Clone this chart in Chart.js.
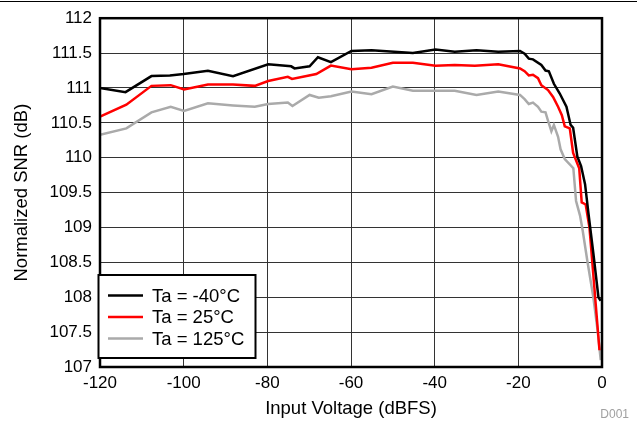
<!DOCTYPE html>
<html>
<head>
<meta charset="utf-8">
<script src="https://cdn.jsdelivr.net/npm/chart.js@4/dist/chart.umd.min.js"></script>
<style>
  html, body { margin: 0; padding: 0; background: #fff; }
  #wrap { position: relative; width: 637px; height: 426px; }
</style>
</head>
<body>
<div id="wrap"><canvas id="c" width="637" height="426"></canvas></div>
<script>
// ---- data ----
const seriesLabels = ['Ta = -40\u00B0C', 'Ta = 25\u00B0C', 'Ta = 125\u00B0C'];

const xM40 = [-120, -113.9, -107.7, -103.3, -100, -94.2, -88.2, -79.8, -74.3, -73.5,
  -69.9, -67.9, -64.8, -59.9, -55.1, -45.2, -39.8, -35.2, -30, -24.8,
  -19.6, -18.5, -17.5, -16.5, -14.5, -13.5, -12.7, -11.5, -10.1, -8.5,
  -7.5, -6.9, -5.9, -5.0, -4.05, -3.25, -2.05, -0.85, -0.3];
const yM40 = [111.0, 110.94, 111.17, 111.18, 111.2, 111.245, 111.17, 111.34, 111.31, 111.28,
  111.31, 111.44, 111.37, 111.53, 111.54, 111.50, 111.55, 111.52, 111.54, 111.52,
  111.53, 111.49, 111.42, 111.41, 111.33, 111.25, 111.24, 111.06, 110.92, 110.73,
  110.47, 110.43, 110.02, 109.88, 109.62, 109.21, 108.62, 108.0, 107.95];

const x25 = [-120, -113.7, -107.7, -103.1, -99.9, -94.2, -88.2, -83, -79.8, -75.1,
  -74.1, -68.3, -64.8, -59.9, -55.1, -50, -45.2, -39.8, -35.2, -30.4,
  -24.8, -19.6, -18.5, -17.5, -16.5, -15.3, -14.5, -12.9, -11.7, -10.5,
  -9.6, -8.9, -7.7, -6.9, -5.45, -4.85, -3.9, -3.0, -0.6];
const y25 = [110.59, 110.76, 111.03, 111.04, 110.98, 111.05, 111.05, 111.03, 111.10, 111.16,
  111.13, 111.2, 111.32, 111.27, 111.29, 111.36, 111.36, 111.32, 111.33, 111.32,
  111.34, 111.28, 111.24, 111.18, 111.19, 111.14, 111.04, 110.97, 110.87, 110.73,
  110.61, 110.45, 110.42, 110.07, 109.85, 109.36, 109.33, 109.0, 107.24];

const x125 = [-120, -113.7, -107.7, -103.1, -99.9, -94.2, -88.2, -83, -79.8, -75.1,
  -74, -69.9, -67.7, -64.8, -59.9, -55.1, -50, -45.2, -39.8, -35.2,
  -30, -24.8, -19.6, -18.5, -17.5, -16.5, -15.3, -14.5, -13.5, -12.9,
  -12.1, -11.5, -10.5, -9.9, -8.9, -6.85, -6.2, -5.25, -4.6, -3.5,
  -2.07, -1.0, -0.3];
const y125 = [110.33, 110.42, 110.65, 110.73, 110.67, 110.78, 110.75, 110.73, 110.77, 110.79,
  110.74, 110.90, 110.86, 110.88, 110.95, 110.91, 111.02, 110.96, 110.96, 110.96,
  110.90, 110.95, 110.90, 110.84, 110.77, 110.79, 110.73, 110.66, 110.65, 110.53,
  110.38, 110.47, 110.30, 110.12, 109.98, 109.85, 109.38, 109.17, 108.95, 108.52,
  108.0, 107.5, 107.1];

const xTicks = [-120, -100, -80, -60, -40, -20, 0];
const yTicks = [107, 107.5, 108, 108.5, 109, 109.5, 110, 110.5, 111, 111.5, 112];

const xTitle = 'Input Voltage (dBFS)';
const yTitle = 'Normalized SNR (dB)';
const noteText = 'D001';

// ---- build ----
const FONT = "'Liberation Sans', Arial, sans-serif";
const colors = ['#000000', '#ff0000', '#aaaaaa'];
const zip = (xs, ys) => xs.map((x, i) => ({ x: x, y: ys[i] }));
const allData = [zip(xM40, yM40), zip(x25, y25), zip(x125, y125)];

const frame = {
  id: 'frame',
  afterDraw(chart) {
    const { ctx, chartArea: a } = chart;
    ctx.save();
    // thin page rule at the top
    ctx.fillStyle = '#000';
    ctx.fillRect(0, 1, 637, 1);
    // thick plot frame
    ctx.strokeStyle = '#000';
    ctx.lineWidth = 2.5;
    ctx.strokeRect(a.left, a.top, a.right - a.left, a.bottom - a.top);
    // legend box
    const bx = 98.5, by = 275, bw = 157, bh = 83;
    ctx.fillStyle = '#fff';
    ctx.fillRect(bx, by, bw, bh);
    ctx.lineWidth = 2;
    ctx.strokeRect(bx, by, bw, bh);
    ctx.font = '18.5px ' + FONT;
    ctx.textBaseline = 'middle';
    ctx.textAlign = 'left';
    seriesLabels.forEach((lab, i) => {
      const yy = 295.5 + i * 21.5;
      ctx.strokeStyle = colors[i];
      ctx.lineWidth = 2.5;
      ctx.beginPath();
      ctx.moveTo(108, yy);
      ctx.lineTo(143, yy);
      ctx.stroke();
      ctx.fillStyle = '#000';
      ctx.fillText(lab, 152, yy + 1);
    });
    // note
    ctx.font = '12px ' + FONT;
    ctx.fillStyle = '#a0a0a0';
    ctx.textAlign = 'right';
    ctx.fillText(noteText, 629, 415);
    ctx.restore();
  }
};

new Chart(document.getElementById('c'), {
  type: 'line',
  data: {
    datasets: allData.map((d, i) => ({
      label: seriesLabels[i],
      data: d,
      borderColor: colors[i],
      backgroundColor: colors[i],
      borderWidth: 2.5,
      pointRadius: 0,
      tension: 0,
      fill: false,
      order: i
    }))
  },
  options: {
    responsive: false,
    animation: false,
    layout: { padding: { top: 16, right: 35, left: 0, bottom: 0 } },
    plugins: { legend: { display: false }, tooltip: { enabled: false } },
    scales: {
      x: {
        type: 'linear',
        min: -120, max: 0,
        afterBuildTicks: s => { s.ticks = xTicks.map(v => ({ value: v })); },
        afterFit: s => { s.height = 59; },
        ticks: { font: { family: FONT, size: 17 }, color: '#000', padding: 6, maxRotation: 0,
                 callback: v => String(v) },
        grid: { color: '#333', lineWidth: 1, drawTicks: false },
        border: { display: false },
        title: { display: true, text: xTitle, font: { family: FONT, size: 18.5 }, color: '#000', padding: { top: 0, bottom: 6 } }
      },
      y: {
        type: 'linear',
        min: 107, max: 112,
        afterBuildTicks: s => { s.ticks = yTicks.map(v => ({ value: v })); },
        afterFit: s => { s.width = 100; },
        ticks: { font: { family: FONT, size: 17 }, color: '#000', padding: 8,
                 callback: v => String(v) },
        grid: { color: '#333', lineWidth: 1, drawTicks: false },
        border: { display: false },
        title: { display: true, text: yTitle, font: { family: FONT, size: 18.5 }, color: '#000', padding: { top: 11, bottom: 0 } }
      }
    }
  },
  plugins: [frame]
});
</script>
</body>
</html>
